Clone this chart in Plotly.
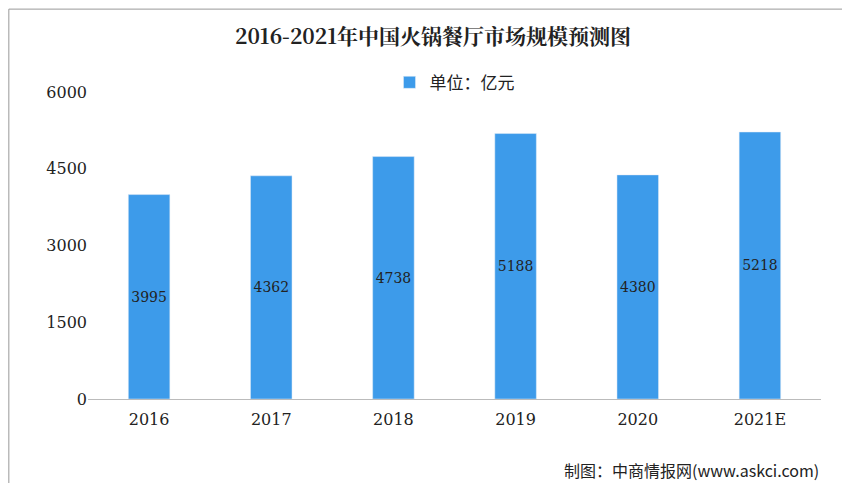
import plotly.graph_objects as go

years = ["2016", "2017", "2018", "2019", "2020", "2021E"]
values = [3995, 4362, 4738, 5188, 4380, 5218]
tick_vals = [0, 1500, 3000, 4500, 6000]

fig = go.Figure()
fig.add_trace(go.Bar(
    x=years, y=values, name="单位：亿元",
    marker_color="#3D9BEA", width=0.34,
    text=[str(v) for v in values], textposition="inside", textangle=0,
    insidetextanchor="middle",
    textfont=dict(family="DejaVu Serif", size=17, color="#222222"),
))

fig.update_layout(
    width=850, height=483,
    paper_bgcolor="white", plot_bgcolor="white",
    margin=dict(l=80, r=37, t=84, b=92, autoexpand=False),
    title=dict(text="<b>2016-2021年中国火锅餐厅市场规模预测图</b>", x=0.5, y=0.94,
               xanchor="center", yanchor="middle",
               font=dict(family="Noto Serif CJK SC, Noto Sans CJK SC", size=21, color="#222222")),
    showlegend=True,
    legend=dict(orientation="h", x=0.5, xanchor="center", y=1.03, yanchor="middle",
                font=dict(family="Noto Sans CJK SC", size=17, color="#222222")),
    xaxis=dict(tickfont=dict(family="DejaVu Serif", size=16, color="#222222"),
               showline=True, linecolor="#BBBBBB", ticks="outside", ticklen=6,
               tickcolor="white"),
    yaxis=dict(range=[0, 6000], tickvals=tick_vals, showgrid=False, zeroline=False,
               tickfont=dict(family="DejaVu Serif", size=16, color="#222222")),
    bargap=0.66,
    shapes=[dict(type="rect", xref="paper", yref="paper", x0=-0.108, x1=1.048,
                 y0=-0.297, y1=1.27, line=dict(color="#999999", width=1))],
    annotations=[dict(text="制图：中商情报网(www.askci.com)", xref="paper", yref="paper",
                      x=1.0, y=-0.23, xanchor="right", yanchor="middle", showarrow=False,
                      font=dict(family="Noto Sans CJK SC", size=16, color="#222222"))],
)

fig.write_html("out.html")
